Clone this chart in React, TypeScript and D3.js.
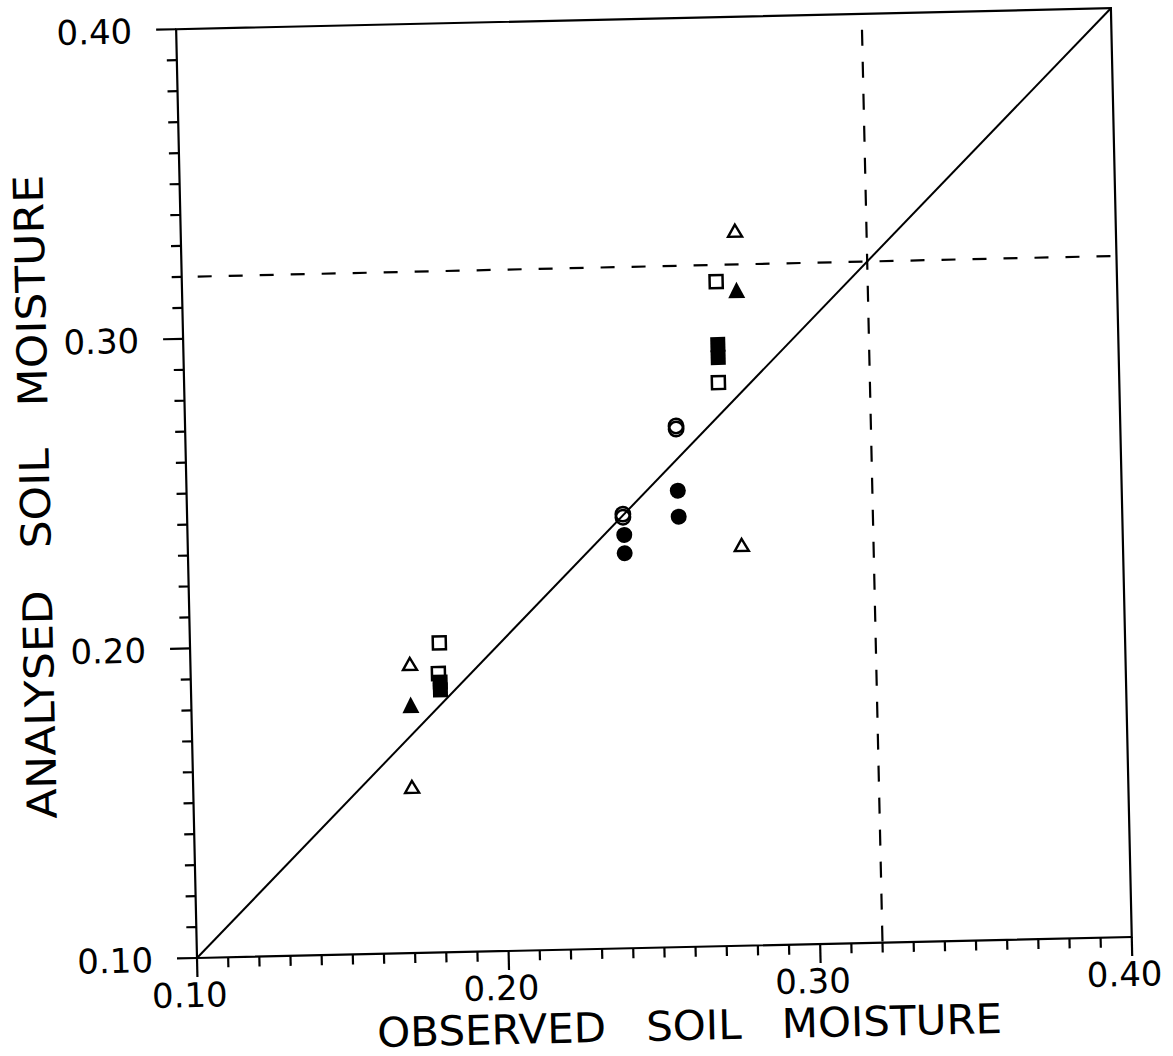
import React from "react";
import * as d3 from "d3";

// Data: [observed, analysed]
const openTriangles: [number, number][] = [
  [0.1704, 0.1934],
  [0.1702, 0.1537],
  [0.2778, 0.3309],
  [0.2777, 0.2294],
];
const filledTriangles: [number, number][] = [
  [0.1704, 0.1801],
  [0.2779, 0.3117],
];
const openSquares: [number, number][] = [
  [0.18, 0.2],
  [0.1795, 0.1901],
  [0.2714, 0.3146],
  [0.2714, 0.282],
];
const filledSquares: [number, number][] = [
  [0.18, 0.1873],
  [0.18, 0.1848],
  [0.2715, 0.2943],
  [0.2715, 0.2901],
];
const openCircles: [number, number][] = [
  [0.2575, 0.2683],
  [0.2575, 0.2673],
  [0.2398, 0.2402],
  [0.2398, 0.2392],
];
const filledCircles: [number, number][] = [
  [0.2576, 0.2474],
  [0.2577, 0.239],
  [0.2401, 0.2335],
  [0.2401, 0.2276],
];
const majorTicks = [0.1, 0.2, 0.3, 0.4];
const minorTicks = d3.range(10, 41).map((i) => i / 100);
const refObserved = [0.32];
const refAnalysed = [0.32];
const xTitle = "OBSERVED   SOIL   MOISTURE";
const yTitle = "ANALYSED   SOIL   MOISTURE";

const W = 935;
const H = 929;
const ANGLE = -1.287;
const FONT = "'DejaVu Sans', 'Liberation Sans', sans-serif";

export default function App() {
  const x = d3.scaleLinear().domain([0.1, 0.4]).range([0, W]);
  const y = d3.scaleLinear().domain([0.1, 0.4]).range([0, -H]);
  const fmt = d3.format(".2f");
  const isMajor = (v: number) => majorTicks.some((m) => Math.abs(m - v) < 1e-9);
  const diag = d3.line<number>().x((d) => x(d)).y((d) => y(d));

  return (
    <svg width={1173} height={1056} style={{ position: "absolute", left: 0, top: 0, background: "#fff" }}>
      <rect x={0} y={0} width={1173} height={1056} fill="#fff" />
      <g transform={`translate(197,958) rotate(${ANGLE})`} fontFamily={FONT} fill="#000">
        {/* frame */}
        <rect x={0} y={-H} width={W} height={H} fill="none" stroke="#000" strokeWidth={2.2} />
        {/* y ticks (outward, left) */}
        {minorTicks.map((t) => (
          <line key={"yt" + t} x1={0} x2={isMajor(t) ? -20 : -10} y1={y(t)} y2={y(t)} stroke="#000" strokeWidth={2.2} />
        ))}
        {/* x ticks (outward, down) */}
        {minorTicks.map((t) => (
          <line key={"xt" + t} x1={x(t)} x2={x(t)} y1={0} y2={isMajor(t) ? 19 : 10} stroke="#000" strokeWidth={2.2} />
        ))}
        {/* y tick labels */}
        {majorTicks.map((t) => (
          <text key={"yl" + t} x={-44} y={y(t) + 1} textAnchor="end" dominantBaseline="central" fontSize={34}>
            {fmt(t)}
          </text>
        ))}
        {/* x tick labels */}
        {majorTicks.map((t) => (
          <text key={"xl" + t} x={x(t) - 8} y={49} textAnchor="middle" fontSize={34}>
            {fmt(t)}
          </text>
        ))}
        {/* reference dashed lines */}
        {refAnalysed.map((v) => (
          <line key={"rh" + v} x1={x(0.1)} x2={x(0.4)} y1={y(v)} y2={y(v)} stroke="#000" strokeWidth={2.2} strokeDasharray="14 17" strokeDashoffset={-16} />
        ))}
        {refObserved.map((v) => (
          <line key={"rv" + v} x1={x(v)} x2={x(v)} y1={y(0.4)} y2={y(0.1)} stroke="#000" strokeWidth={2.2} strokeDasharray="16 16" strokeDashoffset={-16} />
        ))}
        {/* 1:1 line */}
        <path d={diag([0.1, 0.4]) || ""} fill="none" stroke="#000" strokeWidth={2} />
        {/* markers */}
        {openTriangles.map((d, i) => (
          <path key={"ot" + i} transform={`translate(${x(d[0])},${y(d[1])})`} d="M-7,6L7,6L0,-6Z" fill="#fff" stroke="#000" strokeWidth={2.4} strokeLinejoin="miter" />
        ))}
        {openSquares.map((d, i) => (
          <rect key={"os" + i} x={x(d[0]) - 6.5} y={y(d[1]) - 6.5} width={13} height={13} fill="#fff" stroke="#000" strokeWidth={2.5} />
        ))}
        {filledSquares.map((d, i) => (
          <rect key={"fs" + i} x={x(d[0]) - 7.5} y={y(d[1]) - 7.5} width={15} height={15} fill="#000" />
        ))}
        {filledTriangles.map((d, i) => (
          <path key={"ft" + i} transform={`translate(${x(d[0])},${y(d[1])})`} d="M-8.5,8L8.5,8L0,-8.5Z" fill="#000" />
        ))}
        {openCircles.map((d, i) => (
          <circle key={"oc" + i} cx={x(d[0])} cy={y(d[1])} r={7.2} fill="none" stroke="#000" strokeWidth={2.5} />
        ))}
        {filledCircles.map((d, i) => (
          <circle key={"fc" + i} cx={x(d[0])} cy={y(d[1])} r={8} fill="#000" />
        ))}
        {/* axis titles */}
        <text x={491} y={93} textAnchor="middle" fontSize={41} textLength={625} lengthAdjust="spacingAndGlyphs" style={{ whiteSpace: "pre" }}>
          {xTitle}
        </text>
        <text transform={`translate(-137,${y(0.25)}) rotate(-90)`} textAnchor="middle" fontSize={41} textLength={644} lengthAdjust="spacingAndGlyphs" style={{ whiteSpace: "pre" }}>
          {yTitle}
        </text>
      </g>
    </svg>
  );
}
